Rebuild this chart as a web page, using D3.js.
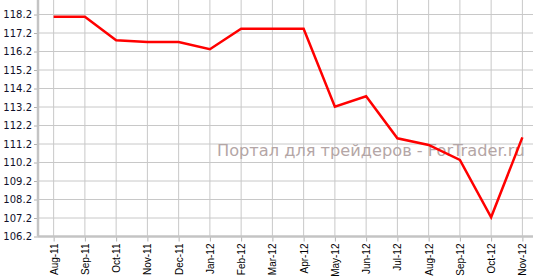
<!DOCTYPE html>
<html>
<head>
<meta charset="utf-8">
<script src="https://cdn.jsdelivr.net/npm/d3@7"></script>
<style>
    body { margin: 0; background: #fff; }
    svg { display: block; }
</style>
</head>
<body>
<script>
const months = ['Aug-11', 'Sep-11', 'Oct-11', 'Nov-11', 'Dec-11', 'Jan-12', 'Feb-12', 'Mar-12',
    'Apr-12', 'May-12', 'Jun-12', 'Jul-12', 'Aug-12', 'Sep-12', 'Oct-12', 'Nov-12'];
const values = [118.08, 118.08, 116.81, 116.71, 116.71, 116.32, 117.43, 117.43,
    117.43, 113.22, 113.78, 111.51, 111.15, 110.34, 107.24, 111.56];
const yTicks = [106.2, 107.2, 108.2, 109.2, 110.2, 111.2, 112.2, 113.2, 114.2, 115.2, 116.2, 117.2, 118.2];
const watermark = 'Портал для трейдеров - ForTrader.ru';

const width = 533;
const height = 279;
const left = 38;
const bottom = 236.5;

const xScale = d3.scalePoint()
    .domain(months)
    .range([left, 538])
    .padding(0.5);

const yScale = d3.scaleLinear()
    .domain([106.2, 118.2])
    .range([bottom, 14.5]);

const svg = d3.select('body')
    .append('svg')
    .attr('width', width)
    .attr('height', height);

// grid
svg.append('g')
    .selectAll('line')
    .data(yTicks)
    .enter()
    .append('line')
    .attr('x1', left)
    .attr('x2', width)
    .attr('y1', (d) => yScale(d))
    .attr('y2', (d) => yScale(d))
    .attr('stroke', '#c8c8c8');

svg.append('g')
    .selectAll('line')
    .data(months)
    .enter()
    .append('line')
    .attr('x1', (d) => xScale(d))
    .attr('x2', (d) => xScale(d))
    .attr('y1', 0)
    .attr('y2', bottom)
    .attr('stroke', '#c8c8c8');

// watermark
svg.append('text')
    .attr('x', 217)
    .attr('y', 156)
    .style('font-family', 'DejaVu Sans')
    .style('font-size', '16.2px')
    .style('fill', '#b4a6a6')
    .text(watermark);

const yAxis = d3.axisLeft(yScale)
    .tickValues(yTicks)
    .tickFormat(d3.format('.1f'))
    .tickSize(4)
    .tickPadding(2);

const xAxis = d3.axisBottom(xScale)
    .tickSize(5)
    .tickPadding(3);

const gy = svg.append('g')
    .attr('transform', 'translate(' + left + ', 0)')
    .call(yAxis);
gy.select('.domain').remove();
gy.selectAll('.tick line').attr('stroke', '#b0b0b0');
gy.selectAll('text')
    .style('font-family', 'DejaVu Sans')
    .style('font-size', '10px')
    .style('fill', '#10102a');

const gx = svg.append('g')
    .attr('transform', 'translate(0, ' + bottom + ')')
    .call(xAxis);
gx.select('.domain').remove();
gx.selectAll('.tick line').attr('stroke', '#b0b0b0');
gx.selectAll('text')
    .attr('transform', 'rotate(-90)')
    .attr('x', -7)
    .attr('y', 0)
    .attr('dy', '0.35em')
    .style('text-anchor', 'end')
    .style('font-family', 'Liberation Sans')
    .style('font-size', '10px')
    .style('fill', '#000');

// axis lines
svg.append('line')
    .attr('x1', left)
    .attr('x2', width)
    .attr('y1', bottom)
    .attr('y2', bottom)
    .attr('stroke', '#c4c4c4')
    .attr('stroke-width', 2.5);

svg.append('line')
    .attr('x1', left)
    .attr('x2', left)
    .attr('y1', 0)
    .attr('y2', bottom)
    .attr('stroke', '#c4c4c4')
    .attr('stroke-width', 2.5);

const line = d3.line()
    .x((d, i) => xScale(months[i]))
    .y((d) => yScale(d));

svg.append('path')
    .datum(values)
    .attr('d', line)
    .attr('fill', 'none')
    .attr('stroke', '#ff0000')
    .attr('stroke-width', 2.5);
</script>
</body>
</html>
